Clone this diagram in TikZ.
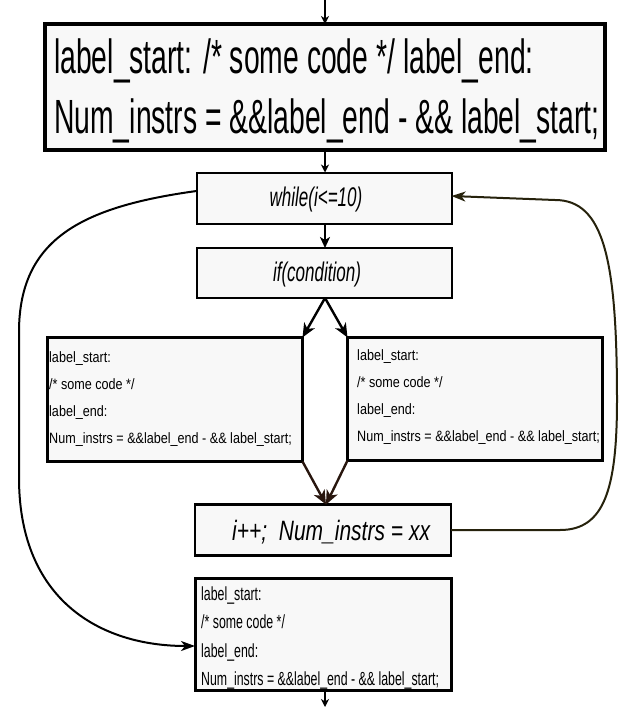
\documentclass[tikz,border=0pt]{standalone}
\usepackage{fontspec}
\setmainfont{Liberation Sans}
% condensed cuts of the same family for the different text sizes
\newfontfamily\hdrfam{Liberation Sans}[FakeStretch=0.59]
\newfontfamily\codefam{Liberation Sans}[FakeStretch=0.84]
\newfontfamily\lastfam{Liberation Sans}[FakeStretch=0.65]
\newfontfamily\ctrlfam{Liberation Sans}[FakeStretch=0.63]
\newfontfamily\incfam{Liberation Sans}[FakeStretch=0.75]
\usetikzlibrary{arrows.meta}
\definecolor{boxfill}{RGB}{248,248,248}
\definecolor{loopline}{RGB}{38,34,12}
\definecolor{mergeline}{RGB}{40,22,14}

\begin{document}
\begin{tikzpicture}[x=1pt, y=-1pt,
  box/.style={draw=black, fill=boxfill, inner sep=0pt, outer sep=0pt},
  hdrline/.style={anchor=base west, inner sep=0pt, font=\hdrfam\fontsize{48}{60}\selectfont},
  codeline/.style={anchor=base west, inner sep=0pt, font=\codefam\fontsize{15}{27}\selectfont},
  lastline/.style={anchor=base west, inner sep=0pt, font=\lastfam\fontsize{19}{28}\selectfont},
  ctrltext/.style={anchor=base, inner sep=0pt, font=\ctrlfam\itshape\fontsize{27}{30}\selectfont},
  flow/.style={line width=2pt, -{Stealth[length=11pt, width=10pt, inset=3pt]}},
  tinyflow/.style={line width=1.6pt, -{Stealth[length=8pt, width=8pt, inset=2.5pt]}},
  branch/.style={line width=2.4pt, -{Stealth[length=14pt, width=12pt, inset=4pt]}},
  loop/.style={line width=2pt, draw=loopline, -{Stealth[length=14pt, width=10pt, inset=4pt]}}
]
\useasboundingbox (0,0) rectangle (627,707);

% ---- boxes ----
\node[box, line width=4pt, minimum width=560pt, minimum height=126pt] (hdr) at (325,87) {};
\node[box, line width=2pt, minimum width=255pt, minimum height=51pt] (loophead) at (324,198) {};
\node[box, line width=2pt, minimum width=255pt, minimum height=50pt] (cond) at (324,273) {};
\node[box, line width=3pt, minimum width=255pt, minimum height=124pt] (lbox) at (175,399.5) {};
\node[box, line width=3pt, minimum width=255pt, minimum height=123pt] (rbox) at (475,399) {};
\node[box, line width=2.5pt, minimum width=256pt, minimum height=51pt] (incr) at (323,530) {};
\node[box, line width=3pt, minimum width=256pt, minimum height=112pt] (after) at (323,634.5) {};

% ---- texts ----
\node[hdrline] (hdrA) at (54,73) {label\_start: /* some code */ label\_end:};
\node[hdrline] (hdrB) at (54,133) {Num\_instrs = \&\&label\_end - \&\& label\_start;};

\node[ctrltext] (whiletxt) at (316,206) {while(i<=10)};
\node[ctrltext] (iftxt) at (317,281) {if(condition)};
\node[ctrltext, anchor=base west, font=\incfam\itshape\fontsize{28}{30}\selectfont] (inctxt) at (232,540) {i++;\ \ Num\_instrs = xx};

\node[codeline] (lA) at (49,362) {label\_start:};
\node[codeline] (lB) at (49,389) {/* some code */};
\node[codeline] (lC) at (49,416) {label\_end:};
\node[codeline] (lD) at (49,443) {Num\_instrs = \&\&label\_end - \&\& label\_start;};

\node[codeline] (rA) at (357,360) {label\_start:};
\node[codeline] (rB) at (357,387) {/* some code */};
\node[codeline] (rC) at (357,414) {label\_end:};
\node[codeline] (rD) at (357,441) {Num\_instrs = \&\&label\_end - \&\& label\_start;};

\node[lastline] (aA) at (201,600) {label\_start:};
\node[lastline] (aB) at (201,628) {/* some code */};
\node[lastline] (aC) at (201,657) {label\_end:};
\node[lastline] (aD) at (201,685) {Num\_instrs = \&\&label\_end - \&\& label\_start;};

% ---- connectors ----
\coordinate (entry) at (325,0);
\coordinate (exit) at (325,707);
\draw[tinyflow] (entry) -- (entry |- hdr.north);
\draw[tinyflow] (hdr.south -| entry) -- (entry |- loophead.north);
\draw[flow] (loophead.south -| entry) -- (entry |- cond.north);
\draw[branch] (cond.south -| entry) -- (lbox.north east);
\draw[branch] (cond.south -| entry) -- (rbox.north west);
\draw[branch, draw=mergeline] (lbox.south east) -- (incr.north -| 326,0);
\draw[branch, draw=mergeline] (rbox.south west) -- (incr.north -| 326,0);
\draw[tinyflow] (after.south -| exit) -- (exit);

% loop exit: from the loop head round the left side to the code after the loop
\draw[loop, draw=black] ([yshift=7pt]loophead.west) .. controls (80,207) and (20,240) .. (19,330)
  -- (19,480) .. controls (20,600) and (100,646) .. (after.west |- 0,646);
% back edge: from the increment round the right side to the loop head
\draw[loop] (incr.east) -- (560,530) .. controls (604,530) and (617,490) .. (617,400)
  .. controls (617,260) and (604,200) .. (555,200) -- ([yshift=2pt]loophead.east);
\end{tikzpicture}
\end{document}
